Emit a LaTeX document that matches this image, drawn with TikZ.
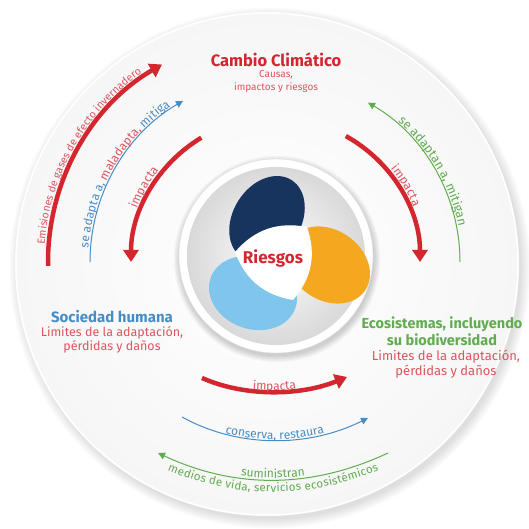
\documentclass[tikz,border=0pt]{standalone}
\usepackage{fontspec}
\setmainfont{Fira Sans}
\usetikzlibrary{arrows.meta, positioning, decorations.text, calc}
\definecolor{ccred}{RGB}{212,38,46}
\definecolor{txtred}{RGB}{221,84,94}
\definecolor{socblue}{RGB}{72,140,198}
\definecolor{ecogreen}{RGB}{96,172,78}
\definecolor{petalnavy}{RGB}{22,52,94}
\definecolor{petalorange}{RGB}{244,168,32}
\definecolor{petalsky}{RGB}{128,197,235}
\newcommand\fsz[1]{\fontsize{#1}{#1}\selectfont}
\newcommand\fszl[2]{\fontsize{#1}{#2}\selectfont}
\tikzset{
	headline/.style={font=\bfseries\fszl{15}{17}, align=center, inner sep=1pt},
	subline/.style={font=\fszl{12.5}{14}, text=txtred, align=center, inner sep=1pt},
	bigarrow/.style={-{Triangle[length=12pt, width=15pt]}, line width=4.5pt, draw=ccred},
	thinarrow/.style={-{Triangle[length=7pt, width=7pt]}, line width=1pt},
	arclabel/.style={decorate, decoration={text along path, text align=center, raise=#1}},
}
\begin{document}
\begin{tikzpicture}[x=1pt, y=1pt]
	\useasboundingbox (0,0) rectangle (528,529);
	\coordinate (D) at (267,265);
	\coordinate (O) at (276,267);
	\coordinate (M) at (276,273);
	% disc and its shadow
	\foreach \k in {1,...,8}
		\fill[black, opacity=0.015] ($(D)+(3,-4)$) circle[radius=250pt+\k*1.3pt];
	\shade[inner color=white, outer color=gray!7] (D) circle[radius=252pt];
	\draw[white, line width=1.5pt] (D) circle[radius=251pt];
	% centre
	\foreach \k in {1,...,6}
		\fill[black, opacity=0.03] ($(M)+(1,-3)$) circle[radius=96pt+\k*1.2pt];
	\fill[white] (M) circle[radius=97pt];
	\draw[gray!25] (M) circle[radius=97pt];
	\shade[inner color=white, outer color=gray!30] (M) circle[radius=89pt];
	\fill[petalsky, shift={(253,236)}, rotate=160] (0,0) ellipse[x radius=45pt, y radius=36pt];
	\fill[petalorange, shift={(328,264)}, rotate=-35] (0,0) ellipse[x radius=45pt, y radius=35pt];
	\fill[petalnavy, shift={(267,310)}, rotate=58] (0,0) ellipse[x radius=46pt, y radius=34pt];
	\coordinate (wA) at (307,302);
	\coordinate (wB) at (235,277);
	\coordinate (wC) at (293,229);
	\fill[white] (wA) to[bend right=30] (wB) to[bend right=30] (wC) to[bend right=30] (wA);
	\node[font=\bfseries\fsz{17}, text=ccred] (risk) at (273,271) {Riesgos};
	% titles
	\node[headline, text=ccred, font=\bfseries\fsz{16.5}] (cc) at (276,469) {Cambio Climático};
	\node[subline, font=\fszl{10}{13}, below=1pt of cc] (ccsub) {Causas,\\impactos y riesgos};
	\node[headline, text=socblue] (soc) at (112,212) {Sociedad humana};
	\node[subline, below=1pt of soc] (socsub) {Limites de la adaptación,\\pérdidas y daños};
	\node[headline, text=ecogreen, font=\bfseries\fszl{14.5}{17}] (eco) at (442,198) {Ecosistemas, incluyendo\\su biodiversidad};
	\node[subline, font=\fszl{13}{15}, below=2pt of eco, xshift=4pt] (ecosub) {Limites de la adaptación,\\pérdidas y daños};
	% left side arcs
	\coordinate (emiS) at ($(O)+(181:228)$);
	\draw[bigarrow] (emiS) arc[start angle=181, end angle=120, radius=228pt];
	\path[arclabel=4pt, decoration={text={|\color{txtred}\fsz{10.5}|Emisiones de gases de efecto invernadero}}]
		(emiS) arc[start angle=181, end angle=120, radius=228pt];
	\coordinate (adaS) at ($(O)+(180:186)$);
	\draw[thinarrow, socblue] (adaS) arc[start angle=180, end angle=120, radius=186pt];
	\path[arclabel=2pt, decoration={text={|\color{socblue}\fsz{12}|se adapta a, |\color{txtred}\fsz{12}|maladapta, |\color{socblue}\fsz{12}|mitiga}}]
		(adaS) arc[start angle=180, end angle=120, radius=186pt];
	\coordinate (impLS) at ($(O)+(121:145)$);
	\coordinate (impLE) at ($(O)+(180:145)$);
	\draw[bigarrow] (impLS) arc[start angle=121, end angle=180, radius=145pt];
	\path[arclabel=4pt, decoration={text={|\color{txtred}\fsz{12}|impacta}}]
		(impLE) arc[start angle=180, end angle=121, radius=145pt];
	% right side arcs
	\coordinate (impRS) at ($(O)+(61:144)$);
	\draw[bigarrow] (impRS) arc[start angle=61, end angle=0, radius=144pt];
	\path[arclabel=4pt, decoration={text={|\color{txtred}\fsz{12}|impacta}}]
		(impRS) arc[start angle=61, end angle=0, radius=144pt];
	\coordinate (mitS) at ($(O)+(0:184)$);
	\coordinate (mitE) at ($(O)+(60:184)$);
	\draw[thinarrow, ecogreen] (mitS) arc[start angle=0, end angle=60, radius=184pt];
	\path[arclabel=2pt, decoration={text={|\color{ecogreen}\fsz{12.5}|se adaptan a, mitigan}}]
		(mitE) arc[start angle=60, end angle=0, radius=184pt];
	% bottom arcs
	\coordinate (impBL) at (202,151);
	\coordinate (impBR) at (347,152);
	\draw[bigarrow] (impBL) .. controls (245,132) and (300,133) .. (impBR);
	\path[arclabel=1.5pt, decoration={text={|\color{txtred}\fsz{12}|impacta}}]
		(impBL) .. controls (245,132) and (300,133) .. (impBR);
	\coordinate (conL) at (182,112);
	\coordinate (conR) at (368,111);
	\draw[thinarrow, socblue] (conL) .. controls (240,80) and (310,82) .. (conR);
	\path[arclabel=1pt, decoration={text={|\color{socblue}\fsz{12}|conserva, restaura}}]
		(conL) .. controls (240,80) and (310,82) .. (conR);
	\coordinate (sumL) at (158,76);
	\coordinate (sumR) at (388,76);
	\draw[thinarrow, ecogreen] (sumR) .. controls (311,40) and (235,40) .. (sumL);
	\path[arclabel=2pt, decoration={text={|\color{ecogreen}\fsz{12}|suministran}}]
		(sumL) .. controls (235,40) and (311,40) .. (sumR);
	\path[arclabel=-12pt, decoration={text={|\color{ecogreen}\fsz{11.5}|medios de vida, servicios ecosistémicos}}]
		(sumL) .. controls (235,40) and (311,40) .. (sumR);
\end{tikzpicture}
\end{document}
